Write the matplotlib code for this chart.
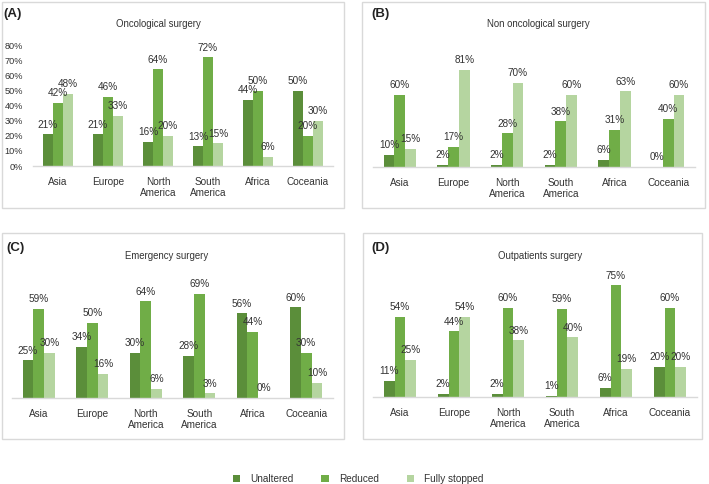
import matplotlib
matplotlib.use("Agg")
import matplotlib.pyplot as plt
from matplotlib.patches import Rectangle, Patch
import numpy as np

plt.rcParams['font.family'] = ['Liberation Sans', 'DejaVu Sans']

categories = ["Asia", "Europe", "North\nAmerica", "South\nAmerica", "Africa", "Coceania"]
series_names = ["Unaltered", "Reduced", "Fully stopped"]
colors = ["#5B8E3A", "#70AD47", "#B5D5A0"]

onco_unaltered = [21, 21, 16, 13, 44, 50]
onco_reduced = [42, 46, 64, 72, 50, 20]
onco_stopped = [48, 33, 20, 15, 6, 30]

nononco_unaltered = [10, 2, 2, 2, 6, 0]
nononco_reduced = [60, 17, 28, 38, 31, 40]
nononco_stopped = [15, 81, 70, 60, 63, 60]

emerg_unaltered = [25, 34, 30, 28, 56, 60]
emerg_reduced = [59, 50, 64, 69, 44, 30]
emerg_stopped = [30, 16, 6, 3, 0, 10]

outpt_unaltered = [11, 2, 2, 1, 6, 20]
outpt_reduced = [54, 44, 60, 59, 75, 60]
outpt_stopped = [25, 54, 38, 40, 19, 20]

W, H = 709, 484
fig = plt.figure(figsize=(W / 100, H / 100), dpi=100)
TXT = "#333333"
GRID = "#D9D9D9"

def fx(px):
    return px / W

def fy(py):
    return 1 - py / H

# panel boxes
boxes = [(2, 2, 344, 208), (362, 2, 705, 208), (2, 233, 344, 439), (363, 233, 702, 439)]
for (x0, y0, x1, y1) in boxes:
    fig.add_artist(Rectangle((fx(x0), fy(y1)), fx(x1 - x0), (y1 - y0) / H,
                             transform=fig.transFigure, fill=False,
                             edgecolor=GRID, linewidth=1.0))

panels = [
    dict(data=(onco_unaltered, onco_reduced, onco_stopped), x0=33, x1=333, base=166, ppp=1.51,
         ymax=80, yaxis=True, title="Oncological surgery", tx=158, ty=24, label="(A)", lx=3, ly=14),
    dict(data=(nononco_unaltered, nononco_reduced, nononco_stopped), x0=373, x1=695, base=167, ppp=1.2,
         ymax=90, yaxis=False, title="Non oncological surgery", tx=538, ty=24, label="(B)", lx=371, ly=14),
    dict(data=(emerg_unaltered, emerg_reduced, emerg_stopped), x0=12, x1=333, base=398, ppp=1.51,
         ymax=75, yaxis=False, title="Emergency surgery", tx=167, ty=256, label="(C)", lx=6, ly=248),
    dict(data=(outpt_unaltered, outpt_reduced, outpt_stopped), x0=373, x1=697, base=397, ppp=1.49,
         ymax=80, yaxis=False, title="Outpatients surgery", tx=540, ty=256, label="(D)", lx=371, ly=248),
]

FS = 7.2
x = np.arange(len(categories))
bw = 0.2
for p in panels:
    hpx = p["ymax"] * p["ppp"]
    ax = fig.add_axes([fx(p["x0"]), fy(p["base"]), fx(p["x1"] - p["x0"]), hpx / H])
    ax.set_xlim(-0.5, len(categories) - 0.5)
    ax.set_ylim(0, p["ymax"])
    for i, (vals, c) in enumerate(zip(p["data"], colors)):
        xs = x + (i - 1) * bw
        ax.bar(xs, vals, width=bw, color=c, linewidth=0)
        for xi, v in zip(xs, vals):
            ax.annotate(f"{v}%", (xi, v), xytext=(0, 7), textcoords="offset points",
                        ha="center", va="center", fontsize=FS, color=TXT)
    for s in ["top", "right", "left"]:
        ax.spines[s].set_visible(False)
    ax.spines["bottom"].set_color(GRID)
    ax.spines["bottom"].set_linewidth(1.0)
    ax.set_xticks(x)
    ax.set_xticklabels(categories, fontsize=FS, color=TXT, linespacing=1.05)
    ax.tick_params(axis="x", length=0, pad=8)
    if p["yaxis"]:
        yt = np.arange(0, p["ymax"] + 1, 10)
        ax.set_yticks(yt)
        ax.set_yticklabels([f"{v}%" for v in yt], fontsize=6.6, color=TXT)
        ax.tick_params(axis="y", length=0, pad=7)
    else:
        ax.set_yticks([])
    ax.patch.set_alpha(0)
    fig.text(fx(p["tx"]), fy(p["ty"]), p["title"], ha="center", va="center", fontsize=6.9, color=TXT)
    fig.text(fx(p["lx"]), fy(p["ly"]), p["label"], ha="left", va="center", fontsize=9.5,
             fontweight="bold", color="#222222")

handles = [Patch(facecolor=c, edgecolor="none") for c in colors]
fig.legend(handles, series_names, loc="center", bbox_to_anchor=(fx(358), fy(479)), ncol=3,
           frameon=False, fontsize=7.2, handlelength=0.75, handleheight=0.75,
           columnspacing=2.8, handletextpad=1.0, labelcolor=TXT)

fig.savefig("out.png", dpi=100)
